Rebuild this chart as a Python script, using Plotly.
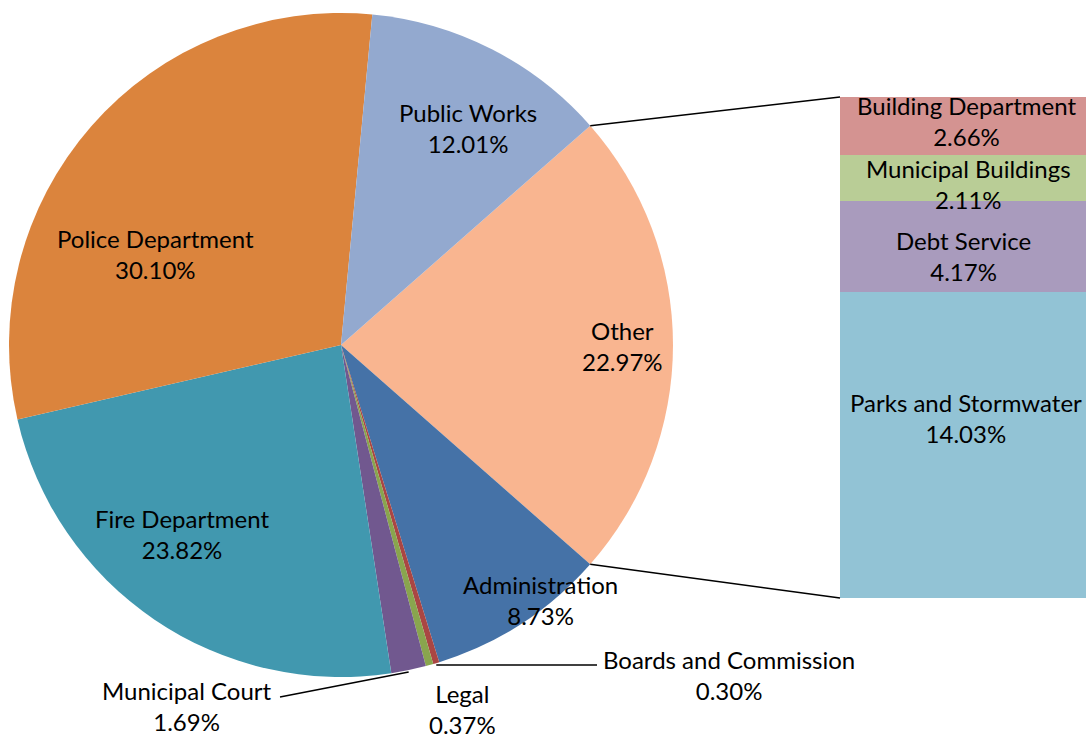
import math
import plotly.graph_objects as go

# ---- data ----
pie_labels = ["Other", "Administration", "Boards and Commission", "Legal",
              "Municipal Court", "Fire Department", "Police Department", "Public Works"]
bar_labels = ["Parks and Stormwater", "Debt Service", "Municipal Buildings", "Building Department"]
bar_values = [14.03, 4.17, 2.11, 2.66]
other_value = round(sum(bar_values), 2)
pie_values = [other_value, 8.73, 0.30, 0.37, 1.69, 23.82, 30.10, 12.01]

pie_colors = ["#F9B590", "#4572A7", "#AA4643", "#89A54E", "#71588F", "#4198AF", "#DB843D", "#93A9CF"]
bar_colors = ["#92C3D5", "#A99BBD", "#B9CD96", "#D49391"]

W, H = 1086, 740
FONT = "Lato"
FS = 24

def px(x):
    return x / W

def py(y):
    return 1 - y / H

# pie geometry (pixels)
CX, CY, R = 341, 345, 332
rotation = 90 - other_value / 100 * 360 / 2

fig = go.Figure()
fig.add_trace(go.Pie(
    labels=pie_labels, values=pie_values, sort=False, direction="clockwise",
    rotation=rotation, marker=dict(colors=pie_colors, line=dict(width=0)),
    textinfo="none", hoverinfo="label+percent", showlegend=False,
    domain=dict(x=[px(CX - R), px(CX + R)], y=[py(CY + R), py(CY - R)]),
))

# bar of "Other"
BAR_L, BAR_R, BAR_T, BAR_B = 840, 1090, 97, 598
for lab, val, col in zip(bar_labels, bar_values, bar_colors):
    fig.add_trace(go.Bar(x=[0], y=[val], name=lab, width=1, marker=dict(color=col, line=dict(width=0)),
                         showlegend=False, xaxis="x", yaxis="y", hoverinfo="name+y"))

def edge(angle_deg_clockwise_from_top):
    a = math.radians(angle_deg_clockwise_from_top)
    return CX + R * math.sin(a), CY - R * math.cos(a)

# cumulative angles
cum = [0]
for v in pie_values:
    cum.append(cum[-1] + v / sum(pie_values) * 360)
start = rotation
top_pt = edge(start)
bot_pt = edge(start + cum[1])
boards_pt = edge(start + (cum[2] + cum[3]) / 2)
court_pt = edge(start + (cum[4] + cum[5]) / 2)

line = dict(color="black", width=1.5)
shapes = [
    dict(type="line", xref="paper", yref="paper", x0=px(top_pt[0]), y0=py(top_pt[1]),
         x1=px(BAR_L), y1=py(BAR_T), line=line),
    dict(type="line", xref="paper", yref="paper", x0=px(bot_pt[0]), y0=py(bot_pt[1]),
         x1=px(BAR_L), y1=py(BAR_B), line=line),
    dict(type="line", xref="paper", yref="paper", x0=px(boards_pt[0]), y0=py(boards_pt[1] + 2),
         x1=px(597), y1=py(boards_pt[1] + 2), line=line),
    dict(type="line", xref="paper", yref="paper", x0=px(court_pt[0]), y0=py(court_pt[1] + 2),
         x1=px(280), y1=py(697), line=line),
]

def fmt(v):
    return f"{v:.2f}%"

label_pos = {
    "Public Works": (468, 128),
    "Police Department": (155, 254),
    "Other": (622, 346),
    "Fire Department": (182, 534),
    "Administration": (540, 600),
    "Municipal Court": (187, 706),
    "Legal": (462, 709),
    "Boards and Commission": (729, 675),
    "Building Department": (966, 121),
    "Municipal Buildings": (968, 184),
    "Debt Service": (963, 256),
    "Parks and Stormwater": (966, 418),
}
values_by_label = dict(zip(pie_labels, pie_values))
values_by_label.update(dict(zip(bar_labels, bar_values)))

annotations = []
for lab, (x, y) in label_pos.items():
    annotations.append(dict(
        x=px(x), y=py(y), xref="paper", yref="paper", showarrow=False,
        text=f"{lab}<br>{fmt(values_by_label[lab])}", xanchor="center", yanchor="middle",
        font=dict(family=FONT, size=FS, color="black"), align="center",
    ))

fig.update_layout(
    width=W, height=H, margin=dict(l=0, r=0, t=0, b=0),
    paper_bgcolor="white", plot_bgcolor="rgba(0,0,0,0)",
    barmode="stack", bargap=0,
    xaxis=dict(domain=[px(BAR_L), 1], range=[-0.5, 0.5 - (BAR_R - W) / (BAR_R - BAR_L)],
               visible=False, fixedrange=True),
    yaxis=dict(domain=[py(BAR_B), py(BAR_T)], range=[0, other_value], visible=False, fixedrange=True),
    shapes=shapes, annotations=annotations,
    font=dict(family=FONT, size=FS),
)

fig.write_html("out.html", config={"displayModeBar": False},
               post_script="document.body.style.margin='0';document.body.style.overflow='hidden';")
